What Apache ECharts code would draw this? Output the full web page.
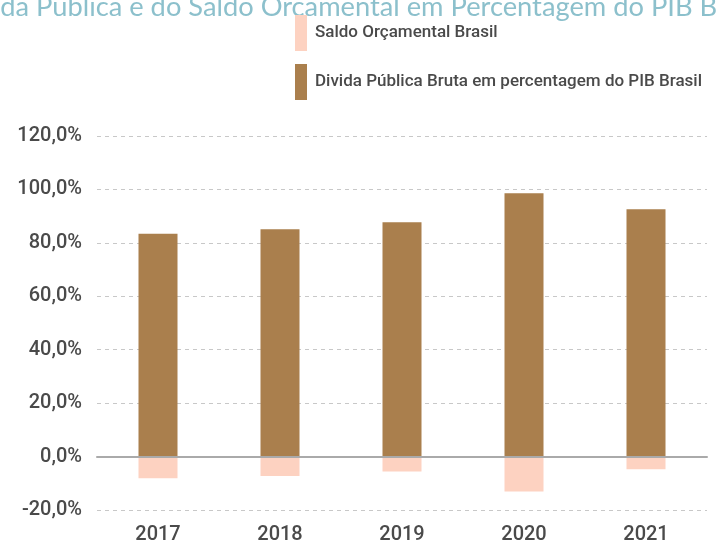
<!DOCTYPE html>
<html>
<head>
<meta charset="utf-8">
<script src="https://cdn.jsdelivr.net/npm/echarts@6/dist/echarts.min.js"></script>
<style>
  html, body { margin: 0; padding: 0; background: #fff; }
  #chart { width: 718px; height: 545px; }
</style>
</head>
<body>
<div id="chart"></div>
<script>
// dados
const anos = ['2017', '2018', '2019', '2020', '2021']
const dividaPIB = [83.4, 85.1, 87.7, 98.6, 92.6]
const saldoOrcamental = [-8.1, -7.3, -5.6, -13.1, -4.7]
const nomeSaldo = 'Saldo Orçamental Brasil'
const nomeDivida = 'Divida Pública Bruta em percentagem do PIB Brasil'
const titulo = 'Evolução da Dívida Pública e do Saldo Orçamental em Percentagem do PIB Brasil'

// ajustar o título cortado ao que se vê na imagem
const ctx = document.createElement('canvas').getContext('2d')
ctx.font = '24px Lato'
const parteVisivel = ctx.measureText('Pública e do Saldo Orçamental em Percentagem do PIB').width
const tamTitulo = 24 * 657 / parteVisivel
ctx.font = tamTitulo + 'px Lato'
const prefixo = ctx.measureText('Evolução da Dívida ').width

const chart = echarts.init(document.getElementById('chart'))
chart.setOption({
  backgroundColor: '#fff',
  animation: false,
  textStyle: { fontFamily: 'Roboto' },
  graphic: [
    {
      type: 'text',
      left: 36 - prefixo,
      top: 20 - tamTitulo * 0.95,
      style: {
        text: titulo,
        font: tamTitulo + 'px Lato',
        fill: '#8cc0cc'
      }
    }
  ],
  legend: {
    orient: 'vertical',
    left: 290,
    top: 10,
    itemWidth: 12,
    itemHeight: 36,
    itemGap: 13,
    icon: 'rect',
    data: [nomeSaldo, nomeDivida],
    textStyle: { color: '#4a4a4a', fontSize: 17, fontWeight: 500, padding: [0, 0, 0, 3] }
  },
  grid: {
    left: 97,
    right: 11,
    top: 136,
    bottom: 34,
    containLabel: false
  },
  xAxis: {
    type: 'category',
    data: anos,
    axisLine: { onZero: true, lineStyle: { color: '#aaaaaa', width: 2 } },
    axisTick: { show: false },
    axisLabel: { color: '#4a4a4a', fontSize: 20, fontWeight: 500, margin: 25, verticalAlign: 'middle', lineHeight: 20 },
    z: 5
  },
  yAxis: {
    type: 'value',
    min: -20,
    max: 120,
    interval: 20,
    axisLine: { show: false },
    axisTick: { show: false },
    axisLabel: {
      color: '#4a4a4a',
      fontSize: 20,
      fontWeight: 500,
      margin: 15,
      formatter: v => v.toFixed(1).replace('.', ',') + '%'
    },
    splitLine: { lineStyle: { color: '#c8c8c8', type: [4, 4], width: 1 } }
  },
  series: [
    {
      name: nomeDivida,
      type: 'bar',
      stack: 'total',
      barWidth: 39,
      itemStyle: { color: '#aa7f4d' },
      data: dividaPIB
    },
    {
      name: nomeSaldo,
      type: 'bar',
      stack: 'total',
      barWidth: 39,
      itemStyle: { color: '#fdd2c1' },
      data: saldoOrcamental
    }
  ]
})
</script>
</body>
</html>
